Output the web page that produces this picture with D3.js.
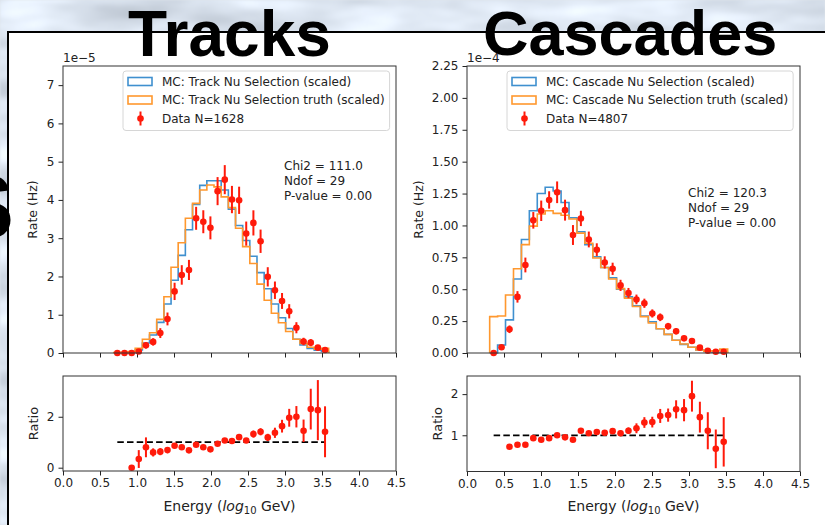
<!DOCTYPE html>
<html>
<head>
<meta charset="utf-8">
<script src="https://cdn.jsdelivr.net/npm/d3@7"></script>
<style>
  html, body { margin: 0; padding: 0; background: #dde3ea; }
  svg { display: block; }
  text { font-family: "DejaVu Sans", sans-serif; fill: #222; }
</style>
</head>
<body>
<svg id="chart" width="825" height="525"></svg>
<script>
// ---------------- data ----------------
// Energy bin centres (log10 GeV)
const trackEnergy = [0.734, 0.831, 0.928, 1.024, 1.121, 1.218, 1.315, 1.412, 1.508, 1.605,
  1.702, 1.799, 1.896, 1.992, 2.089, 2.186, 2.283, 2.380, 2.476, 2.573,
  2.670, 2.767, 2.864, 2.960, 3.057, 3.154, 3.251, 3.348, 3.444, 3.541];
const cascadeEnergy = [0.360, 0.467, 0.574, 0.682, 0.789, 0.896, 1.003, 1.110, 1.218, 1.325,
  1.432, 1.539, 1.646, 1.754, 1.861, 1.968, 2.075, 2.182, 2.290, 2.397,
  2.504, 2.611, 2.718, 2.826, 2.933, 3.040, 3.147, 3.254, 3.362, 3.469];

// Tracks: rates in units of 1e-5 Hz
const trackMC = [0, 0, 0.01, 0.08, 0.26, 0.47, 0.80, 1.28, 1.90, 2.55,
  3.22, 3.88, 4.38, 4.50, 4.50, 4.26, 3.76, 3.33, 2.94, 2.53,
  2.10, 1.68, 1.28, 0.92, 0.64, 0.36, 0.21, 0.12, 0.07, 0.04];
const trackTruth = [0.01, 0.02, 0.04, 0.12, 0.36, 0.53, 0.88, 1.47, 2.24, 2.88,
  3.52, 3.91, 4.26, 4.39, 4.34, 4.08, 3.80, 3.26, 2.78, 2.34,
  1.80, 1.38, 1.04, 0.79, 0.56, 0.36, 0.25, 0.15, 0.10, 0.12];
const trackData = [0, 0, 0, 0.04, 0.20, 0.29, 0.52, 0.89, 1.61, 2.04,
  2.17, 3.52, 3.43, 3.27, 4.23, 4.53, 4.01, 3.99, 3.12, 3.40,
  2.92, 1.99, 1.64, 1.36, 1.09, 0.66, 0.30, 0.27, 0.14, 0.08];
const trackDataErr = [0, 0, 0, 0.036, 0.08, 0.096, 0.129, 0.168, 0.226, 0.255,
  0.263, 0.30, 0.30, 0.30, 0.367, 0.38, 0.357, 0.356, 0.315, 0.329,
  0.305, 0.252, 0.228, 0.208, 0.186, 0.145, 0.098, 0.093, 0.067, 0.05];
const trackRatio = [null, null, 0.00, 0.34, 0.80, 0.60, 0.63, 0.69, 0.86, 0.80,
  0.68, 0.90, 0.80, 0.72, 0.94, 1.07, 1.05, 1.20, 1.07, 1.32,
  1.41, 1.19, 1.37, 1.63, 1.96, 2.00, 1.45, 2.30, 2.26, 1.41];
const trackRatioErr = [null, null, 0, 0.35, 0.39, 0.16, 0.14, 0.12, 0.10, 0.08,
  0.08, 0.07, 0.07, 0.06, 0.07, 0.08, 0.08, 0.09, 0.09, 0.14,
  0.14, 0.14, 0.20, 0.25, 0.35, 0.42, 0.44, 0.80, 1.18, 1.00];

// Cascades: rates in units of 1e-4 Hz
const cascadeMC = [0, 0.063, 0.26, 0.58, 0.89, 1.115, 1.25, 1.30, 1.27, 1.18,
  1.06, 0.95, 0.85, 0.755, 0.67, 0.59, 0.50, 0.44, 0.37, 0.29,
  0.245, 0.19, 0.146, 0.10, 0.068, 0.045, 0.024, 0.012, 0.006, 0.004];
const cascadeTruth = [0.285, 0.29, 0.455, 0.66, 0.85, 0.995, 1.09, 1.115, 1.095, 1.08,
  1.05, 0.94, 0.86, 0.745, 0.67, 0.58, 0.505, 0.43, 0.365, 0.285,
  0.235, 0.19, 0.146, 0.10, 0.07, 0.045, 0.024, 0.015, 0.018, 0.03];
const cascadeData = [0.0, 0.045, 0.186, 0.44, 0.69, 1.04, 1.115, 1.20, 1.26, 1.12,
  0.925, 1.055, 0.89, 0.81, 0.71, 0.66, 0.53, 0.47, 0.42, 0.39,
  0.31, 0.28, 0.21, 0.17, 0.115, 0.094, 0.042, 0.018, 0.01, 0.01];
const cascadeDataErr = [0, 0.014, 0.03, 0.045, 0.058, 0.065, 0.08, 0.068, 0.085, 0.082,
  0.078, 0.06, 0.062, 0.05, 0.048, 0.048, 0.044, 0.04, 0.038, 0.036,
  0.032, 0.03, 0.026, 0.024, 0.02, 0.018, 0.012, 0.008, 0.006, 0.006];
const cascadeRatio = [null, null, 0.72, 0.77, 0.77, 0.93, 0.89, 0.93, 1.00, 0.95,
  0.89, 1.11, 1.05, 1.08, 1.06, 1.10, 1.05, 1.11, 1.17, 1.31,
  1.32, 1.47, 1.49, 1.63, 1.61, 1.95, 1.44, 1.11, 0.67, 0.84];
const cascadeRatioErr = [null, null, 0.05, 0.05, 0.04, 0.04, 0.04, 0.04, 0.04, 0.04,
  0.04, 0.05, 0.05, 0.05, 0.06, 0.06, 0.07, 0.08, 0.12, 0.13,
  0.13, 0.17, 0.16, 0.22, 0.27, 0.375, 0.375, 0.45, 0.47, 0.60];

// Tick labels
const energyTicks = [0.0, 0.5, 1.0, 1.5, 2.0, 2.5, 3.0, 3.5, 4.0, 4.5];
const trackRateTicks = [0, 1, 2, 3, 4, 5, 6, 7];
const cascadeRateTicks = [0.00, 0.25, 0.50, 0.75, 1.00, 1.25, 1.50, 1.75, 2.00, 2.25];
const trackRatioTicks = [0, 2];
const cascadeRatioTicks = [1, 2];

// Legend and fit summary texts
const trackLegend = ["MC: Track Nu Selection (scaled)", "MC: Track Nu Selection truth (scaled)", "Data N=1628"];
const cascadeLegend = ["MC: Cascade Nu Selection (scaled)", "MC: Cascade Nu Selection truth (scaled)", "Data N=4807"];
const trackStats = ["Chi2 = 111.0", "Ndof = 29", "P-value = 0.00"];
const cascadeStats = ["Chi2 = 120.3", "Ndof = 29", "P-value = 0.00"];

// ---------------- drawing ----------------
const BLUE = "#3f90cf";
const ORANGE = "#ff982e";
const RED = "#ff1a0a";

const svg = d3.select("#chart");
const defs = svg.append("defs");

// soft slide-background texture
const tex = defs.append("filter").attr("id", "slideTexture")
  .attr("x", 0).attr("y", 0).attr("width", "100%").attr("height", "100%")
  .attr("color-interpolation-filters", "sRGB");
tex.append("feTurbulence").attr("type", "fractalNoise")
  .attr("baseFrequency", "0.010 0.03").attr("numOctaves", 3).attr("seed", 11);
tex.append("feColorMatrix").attr("type", "matrix")
  .attr("values", "0.32 0 0 0 0.70  0.32 0 0 0 0.735  0.32 0 0 0 0.78  0 0 0 0 1");
tex.append("feGaussianBlur").attr("stdDeviation", 1.2);
svg.append("rect").attr("width", 825).attr("height", 525).attr("filter", "url(#slideTexture)");

// white content box
svg.append("rect").attr("x", 8).attr("y", 32).attr("width", 840).attr("height", 520)
  .attr("fill", "#fff").attr("stroke", "#000").attr("stroke-width", 2);

// slide titles
svg.append("text").attr("x", 128).attr("y", 56).text("Tracks")
  .style("font-family", "'Liberation Sans', Arial, sans-serif")
  .style("font-weight", "bold").style("font-size", "64px").style("fill", "#000");
svg.append("text").attr("x", 483).attr("y", 55).text("Cascades")
  .style("font-family", "'Liberation Sans', Arial, sans-serif")
  .style("font-weight", "bold").style("font-size", "63px").style("fill", "#000");
// edge of a heading running off the left side of the slide
svg.append("text").attr("x", 14).attr("y", 238).attr("text-anchor", "end").text("S")
  .style("font-family", "'Liberation Sans', Arial, sans-serif")
  .style("font-weight", "bold").style("font-size", "90px").style("fill", "#000");

function stepPath(x, y, centres, values) {
  const w = centres[1] - centres[0];
  const pts = [[centres[0] - w / 2, 0]];
  centres.forEach((c, i) => {
    pts.push([c - w / 2, values[i]]);
    pts.push([c + w / 2, values[i]]);
  });
  pts.push([centres[centres.length - 1] + w / 2, 0]);
  return d3.line().x(d => x(d[0])).y(d => y(d[1]))(pts);
}

function drawPanel(p) {
  const g = svg.append("g");
  const x = d3.scaleLinear().domain([0, 4.5]).range([p.left, p.right]);
  const y = d3.scaleLinear().domain(p.rateDomain).range([p.mainBottom, p.mainTop]);
  const r = d3.scaleLinear().domain(p.ratioDomain).range([p.ratioBottom, p.ratioTop]);

  // axes
  function styleAxis(sel) {
    sel.select(".domain").remove();
    sel.selectAll(".tick line").attr("stroke", "#222").attr("stroke-width", 1);
    sel.selectAll(".tick text").style("font-size", "12px").style("fill", "#222")
      .style("font-family", "'DejaVu Sans', sans-serif");
  }
  g.append("g").attr("transform", `translate(0,${p.mainBottom})`)
    .call(d3.axisBottom(x).tickValues(energyTicks).tickSize(4.5).tickFormat(""))
    .call(styleAxis);
  g.append("g").attr("transform", `translate(${p.left},0)`)
    .call(d3.axisLeft(y).tickValues(p.rateTicks).tickSize(4.5).tickPadding(4).tickFormat(d3.format(p.rateFormat)))
    .call(styleAxis);
  g.append("g").attr("transform", `translate(0,${p.ratioBottom})`)
    .call(d3.axisBottom(x).tickValues(energyTicks).tickSize(4.5).tickPadding(3).tickFormat(d3.format(".1f")))
    .call(styleAxis);
  g.append("g").attr("transform", `translate(${p.left},0)`)
    .call(d3.axisLeft(r).tickValues(p.ratioTicks).tickSize(4.5).tickPadding(4).tickFormat(d3.format("d")))
    .call(styleAxis);

  // MC step histograms
  g.append("path").attr("d", stepPath(x, y, p.energy, p.mc))
    .attr("fill", "none").attr("stroke", BLUE).attr("stroke-width", 1.6);
  g.append("path").attr("d", stepPath(x, y, p.energy, p.truth))
    .attr("fill", "none").attr("stroke", ORANGE).attr("stroke-width", 1.6);

  // data with error bars
  const pts = p.energy.map((e, i) => ({ e, v: p.data[i], err: p.dataErr[i] }));
  g.append("g").selectAll("line").data(pts.filter(d => d.err > 0)).join("line")
    .attr("x1", d => x(d.e)).attr("x2", d => x(d.e))
    .attr("y1", d => y(d.v - d.err)).attr("y2", d => y(d.v + d.err))
    .attr("stroke", RED).attr("stroke-width", 2);
  g.append("g").selectAll("circle").data(pts).join("circle")
    .attr("cx", d => x(d.e)).attr("cy", d => y(d.v)).attr("r", 3.3).attr("fill", RED);

  // ratio panel
  const rpts = p.energy.map((e, i) => ({ e, v: p.ratio[i], err: p.ratioErr[i] }))
    .filter(d => d.v !== null);
  g.append("line")
    .attr("x1", x(p.energy[0])).attr("x2", x(p.energy[p.energy.length - 1]))
    .attr("y1", r(1)).attr("y2", r(1))
    .attr("stroke", "#000").attr("stroke-width", 1.8).attr("stroke-dasharray", "6.5,3.2");
  g.append("g").selectAll("line").data(rpts.filter(d => d.err > 0)).join("line")
    .attr("x1", d => x(d.e)).attr("x2", d => x(d.e))
    .attr("y1", d => r(d.v - d.err)).attr("y2", d => r(d.v + d.err))
    .attr("stroke", RED).attr("stroke-width", 2);
  g.append("g").selectAll("circle").data(rpts).join("circle")
    .attr("cx", d => x(d.e)).attr("cy", d => r(d.v)).attr("r", 3.3).attr("fill", RED);

  // frames
  g.append("rect").attr("x", p.left).attr("y", p.mainTop)
    .attr("width", p.right - p.left).attr("height", p.mainBottom - p.mainTop)
    .attr("fill", "none").attr("stroke", "#333").attr("stroke-width", 1);
  g.append("rect").attr("x", p.left).attr("y", p.ratioTop)
    .attr("width", p.right - p.left).attr("height", p.ratioBottom - p.ratioTop)
    .attr("fill", "none").attr("stroke", "#333").attr("stroke-width", 1);

  // offset text
  g.append("text").attr("x", p.left).attr("y", p.mainTop - 4).text(p.offset)
    .style("font-size", "12px");

  // axis labels
  g.append("text").attr("transform", `translate(${p.rateLabelX},${(p.mainTop + p.mainBottom) / 2}) rotate(-90)`)
    .attr("text-anchor", "middle").attr("dominant-baseline", "central")
    .text("Rate (Hz)").style("font-size", "12.5px");
  g.append("text").attr("transform", `translate(${p.ratioLabelX},${(p.ratioTop + p.ratioBottom) / 2}) rotate(-90)`)
    .attr("text-anchor", "middle").attr("dominant-baseline", "central")
    .text("Ratio").style("font-size", "13px");
  const xl = g.append("text").attr("x", (p.left + p.right) / 2).attr("y", 511)
    .attr("text-anchor", "middle").style("font-size", "14px");
  xl.append("tspan").text("Energy (");
  xl.append("tspan").text("log").style("font-style", "italic");
  xl.append("tspan").text("10").style("font-size", "10px").attr("dy", 3);
  xl.append("tspan").text(" GeV)").attr("dy", -3);

  // fit summary
  const st = g.append("text").style("font-size", "12px");
  p.stats.forEach((s, i) => {
    st.append("tspan").attr("x", p.statsX).attr("y", p.statsY + i * 14.8).text(s);
  });

  // legend
  const lg = g.append("g");
  const frame = lg.append("rect").attr("x", p.legendX).attr("y", p.legendY)
    .attr("rx", 3).attr("ry", 3).attr("fill", "#fff").attr("fill-opacity", 0.8)
    .attr("stroke", "#d6d6d6").attr("stroke-width", 1);
  const rowY = [p.legendY + 10.5, p.legendY + 29, p.legendY + 47.5];
  const px = p.legendX + 5;
  lg.append("rect").attr("x", px).attr("y", rowY[0] - 4).attr("width", 24).attr("height", 8)
    .attr("fill", "none").attr("stroke", BLUE).attr("stroke-width", 1.6);
  lg.append("rect").attr("x", px).attr("y", rowY[1] - 4).attr("width", 24).attr("height", 8)
    .attr("fill", "none").attr("stroke", ORANGE).attr("stroke-width", 1.6);
  lg.append("line").attr("x1", px + 12.5).attr("x2", px + 12.5)
    .attr("y1", rowY[2] - 7).attr("y2", rowY[2] + 7).attr("stroke", RED).attr("stroke-width", 2);
  lg.append("circle").attr("cx", px + 12.5).attr("cy", rowY[2]).attr("r", 3.3).attr("fill", RED);
  let maxW = 0;
  p.legend.forEach((s, i) => {
    const t = lg.append("text").attr("x", px + 34).attr("y", rowY[i] + 4.4)
      .text(s).style("font-size", "12px");
    maxW = Math.max(maxW, t.node().getComputedTextLength());
  });
  frame.attr("width", 5 + 34 + maxW + 5).attr("height", rowY[2] - p.legendY + 12);
}

drawPanel({
  left: 63, right: 396, mainTop: 66, mainBottom: 353, ratioTop: 376, ratioBottom: 471,
  rateDomain: [0, 7.5], ratioDomain: [-0.13, 3.6],
  rateTicks: trackRateTicks, rateFormat: "d", ratioTicks: trackRatioTicks,
  energy: trackEnergy, mc: trackMC, truth: trackTruth,
  data: trackData, dataErr: trackDataErr, ratio: trackRatio, ratioErr: trackRatioErr,
  offset: "1e\u22125", rateLabelX: 32, ratioLabelX: 33,
  stats: trackStats, statsX: 284, statsY: 170,
  legend: trackLegend, legendX: 123, legendY: 71
});

drawPanel({
  left: 467, right: 800, mainTop: 66, mainBottom: 353, ratioTop: 376, ratioBottom: 471.5,
  rateDomain: [0, 2.25], ratioDomain: [0.12, 2.44],
  rateTicks: cascadeRateTicks, rateFormat: ".2f", ratioTicks: cascadeRatioTicks,
  energy: cascadeEnergy, mc: cascadeMC, truth: cascadeTruth,
  data: cascadeData, dataErr: cascadeDataErr, ratio: cascadeRatio, ratioErr: cascadeRatioErr,
  offset: "1e\u22124", rateLabelX: 418, ratioLabelX: 437,
  stats: cascadeStats, statsX: 688, statsY: 197,
  legend: cascadeLegend, legendX: 507, legendY: 71
});
</script>
</body>
</html>
